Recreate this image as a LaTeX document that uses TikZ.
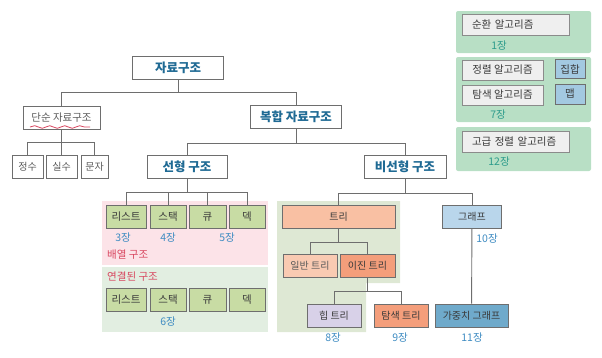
\documentclass[tikz,border=0pt]{standalone}
\usepackage{fontspec}
\setmainfont{Noto Sans CJK KR}
\usepackage{xcolor}
\usetikzlibrary{backgrounds,decorations.pathmorphing}
\definecolor{dsLine}{HTML}{6E6E6E}
\definecolor{dsInk}{HTML}{3A3A3A}
\definecolor{dsGray}{HTML}{5A5A5A}
\definecolor{dsBlue}{HTML}{1F6A94}
\definecolor{dsChapter}{HTML}{3F8CC2}
\definecolor{dsTeal}{HTML}{2E9C8C}
\definecolor{dsRed}{HTML}{D8465F}
\definecolor{dsOlive}{HTML}{C8DCA4}
\definecolor{dsPink}{HTML}{FCE3E8}
\definecolor{dsMint}{HTML}{E2EEE1}
\definecolor{dsSage}{HTML}{DEE8D4}
\definecolor{dsPanel}{HTML}{B8DFC5}
\definecolor{dsSalmon}{HTML}{F9C0A3}
\definecolor{dsPeach}{HTML}{F9CAB2}
\definecolor{dsOrange}{HTML}{F49E7B}
\definecolor{dsLavender}{HTML}{D8D1E8}
\definecolor{dsSky}{HTML}{B9D6EB}
\definecolor{dsSteel}{HTML}{6FAACB}
\definecolor{dsCard}{HTML}{EFEFEF}
\tikzset{
    ds/box/.style={
        rectangle, draw=dsLine, fill=white, line width=0.9pt,
        text=dsGray, font=\fontsize{10}{12}\selectfont,
        minimum height=23pt, inner sep=0pt
    },
    ds/title/.style={
        ds/box, text=dsBlue, font=\fontsize{12.5}{14}\selectfont\bfseries
    },
    ds/linear/.style={ds/box, fill=dsOlive, text=dsInk,
        font=\fontsize{10.5}{12}\selectfont},
    ds/tree/.style={ds/box, fill=dsSalmon, text=dsInk},
    ds/graph/.style={ds/box, fill=dsSky, text=dsInk},
    ds/algo/.style={
        ds/box, fill=dsCard, draw=dsLine!80, text=dsInk,
        font=\fontsize{10.5}{12}\selectfont, minimum height=21pt
    },
    ds/algo wide/.style={
        ds/algo, text width=87pt, align=left, inner xsep=10pt
    },
    ds/mapbox/.style={
        ds/box, fill=dsSky!70!dsSteel, text=dsInk,
        font=\fontsize{10.5}{12}\selectfont, minimum width=30pt,
        minimum height=20pt
    },
    ds/link/.style={draw=dsLine, line width=0.9pt},
    ds/chapter/.style={
        font=\fontsize{10.5}{12}\selectfont, text=dsChapter, inner sep=0pt
    },
    ds/panel chapter/.style={ds/chapter, text=dsTeal},
    ds/group label/.style={
        font=\fontsize{10.5}{12}\selectfont, text=dsRed, inner sep=0pt,
        anchor=west
    },
    ds/panel/.style={fill=dsPanel, draw=none, rounded corners=2pt}
}

\begin{document}
\begin{tikzpicture}[x=1pt,y=-1pt]
    \useasboundingbox (0,0) rectangle (602,357);

    % background groups
    \fill[dsPink] (102,201) rectangle (268,265);
    \fill[dsMint] (102,267) rectangle (268,332);
    \fill[dsSage] (277,201) -- (400,201) -- (400,283) -- (366,283)
        -- (366,332) -- (277,332) -- cycle;
    \fill[ds/panel] (456,11) rectangle (591,53);
    \fill[ds/panel] (456,57) rectangle (591,122);
    \fill[ds/panel] (456,127) rectangle (591,171);

    % upper levels
    \node[ds/title, minimum width=91pt] (jaryo) at (178,67.5) {자료구조};
    \node[ds/box, minimum width=77pt, font=\fontsize{10.5}{12}\selectfont]
        (dansun) at (61.5,117.5) {단순 자료구조};
    \node[ds/title, minimum width=91pt] (bokhap) at (296,117) {복합 자료구조};
    \node[ds/box, minimum width=31pt] (jeongsu) at (27.5,166.5) {정수};
    \node[ds/box, minimum width=31pt] (silsu) at (61.5,166.5) {실수};
    \node[ds/box, minimum width=27pt] (munja) at (94.5,166.5) {문자};
    \node[ds/title, minimum width=80pt] (seonhyeong) at (187,166.5) {선형 구조};
    \node[ds/title, minimum width=82pt] (biseon) at (405,167) {비선형 구조};

    % linear structures
    \node[ds/linear, minimum width=40pt] (list) at (126,216.5) {리스트};
    \node[ds/linear, minimum width=36pt] (stack) at (168,216.5) {스택};
    \node[ds/linear, minimum width=37pt] (queue) at (207.5,216.5) {큐};
    \node[ds/linear, minimum width=36pt] (deque) at (247,216.5) {덱};
    \node[ds/chapter] at (123,238) {3장};
    \node[ds/chapter] at (168,238) {4장};
    \node[ds/chapter] at (227,238) {5장};
    \node[ds/group label] at (107,255) {배열 구조};
    \node[ds/group label] at (107,277) {연결된 구조};
    \node[ds/linear, minimum width=40pt] (llist) at (126,299.5) {리스트};
    \node[ds/linear, minimum width=36pt] (lstack) at (168,299.5) {스택};
    \node[ds/linear, minimum width=37pt] (lqueue) at (207.5,299.5) {큐};
    \node[ds/linear, minimum width=36pt] (ldeque) at (247,299.5) {덱};
    \node[ds/chapter] at (168,322) {6장};

    % non-linear structures
    \node[ds/tree, minimum width=113pt] (tree) at (338.5,216.5) {트리};
    \node[ds/tree, fill=dsPeach, text=dsGray, minimum width=54pt]
        (ilban) at (310,265.5) {일반 트리};
    \node[ds/tree, fill=dsOrange, minimum width=55pt]
        (ijin) at (367.5,265.5) {이진 트리};
    \node[ds/box, fill=dsLavender, text=dsInk, minimum width=54pt]
        (heap) at (334,315.5) {힙 트리};
    \node[ds/tree, fill=dsOrange, minimum width=54pt]
        (bst) at (401,315.5) {탐색 트리};
    \node[ds/chapter] at (333,338) {8장};
    \node[ds/chapter] at (400,338) {9장};
    \node[ds/graph, minimum width=59pt] (graph) at (472,216.5) {그래프};
    \node[ds/chapter] at (487,239) {10장};
    \node[ds/graph, fill=dsSteel, minimum width=73pt]
        (wgraph) at (471.5,315.5) {가중치 그래프};
    \node[ds/chapter] at (472,338) {11장};

    % algorithm panels
    \node[ds/algo wide] (sunhwan) at (515.5,24.5) {순환 알고리즘};
    \node[ds/panel chapter] at (499,46) {1장};
    \node[ds/algo, minimum width=81pt, minimum height=20pt]
        (jeongryeol) at (502.5,70) {정렬 알고리즘};
    \node[ds/mapbox, minimum height=19pt] (jiphap) at (570,69) {집합};
    \node[ds/algo, minimum width=81pt, minimum height=20pt]
        (tamsaek) at (502.5,95) {탐색 알고리즘};
    \node[ds/mapbox] (maep) at (570,94) {맵};
    \node[ds/panel chapter] at (498,115) {7장};
    \node[ds/algo wide] (gogeup) at (515.5,141.5) {고급 정렬 알고리즘};
    \node[ds/panel chapter] at (499,162) {12장};

    % red wavy underline
    \draw[dsRed, line width=0.8pt, decorate,
        decoration={snake, segment length=15pt, amplitude=1.3pt}]
        (30,127) -- (90,127);

    % connectors
    \foreach \child in {dansun, bokhap}
        \draw[ds/link] (jaryo.south) -- ++(0,12.5) -| (\child.north);
    \foreach \child in {jeongsu, silsu, munja}
        \draw[ds/link] (dansun.south) -- ++(0,13) -| (\child.north);
    \foreach \child in {seonhyeong, biseon}
        \draw[ds/link] (bokhap.south) -- ++(0,14) -| (\child.north);
    \foreach \child in {list, stack, queue, deque}
        \draw[ds/link] (seonhyeong.south) -- ++(0,14) -| (\child.north);
    \foreach \child in {tree, graph}
        \draw[ds/link] (biseon.south) -- ++(0,14) -| (\child.north);
    \foreach \child in {ilban, ijin}
        \draw[ds/link] (tree.south) -- ++(0,14) -| (\child.north);
    \foreach \child in {heap, bst}
        \draw[ds/link] (ijin.south) -- ++(0,14) -| (\child.north);
    \draw[ds/link] (graph) -- (wgraph);
\end{tikzpicture}
\end{document}
